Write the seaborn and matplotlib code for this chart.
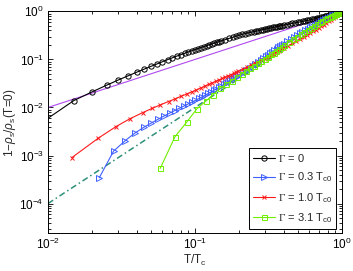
import numpy as np
import pandas as pd
import seaborn as sns
import matplotlib
matplotlib.use("Agg")
import matplotlib.pyplot as plt
from matplotlib.ticker import LogLocator, NullFormatter

# ---------------- data ----------------
T_g0 = [0.005, 0.015, 0.02, 0.025, 0.03, 0.035, 0.04, 0.045, 0.05, 0.055, 0.06, 0.065, 0.07,
        0.075, 0.08, 0.085, 0.09, 0.095, 0.1, 0.105, 0.11, 0.115, 0.12, 0.125, 0.13, 0.135,
        0.14, 0.145, 0.15, 0.16, 0.17, 0.18, 0.19, 0.2, 0.21, 0.22, 0.23, 0.24, 0.25, 0.26,
        0.27, 0.28, 0.29, 0.3, 0.31, 0.32, 0.33, 0.34, 0.35, 0.36, 0.37, 0.38, 0.39, 0.4,
        0.42, 0.44, 0.46, 0.48, 0.5, 0.52, 0.54, 0.56, 0.58, 0.6, 0.62, 0.64, 0.66, 0.68,
        0.7, 0.72, 0.74, 0.76, 0.78, 0.8, 0.82, 0.84, 0.86, 0.88, 0.9, 0.92, 0.94, 0.96,
        0.98, 1.0]
y_g0 = [0.0014, 0.01395, 0.0212, 0.029, 0.0372, 0.0455, 0.054, 0.0626, 0.0715, 0.0803,
        0.0894, 0.0988, 0.1078, 0.117, 0.1256, 0.1343, 0.1431, 0.152, 0.160, 0.168, 0.1766,
        0.1846, 0.1932, 0.2013, 0.2093, 0.2174, 0.2254, 0.2335, 0.2415, 0.2576, 0.2737,
        0.288, 0.304, 0.320, 0.3339, 0.3454, 0.3565, 0.3672, 0.3775, 0.3875, 0.3975,
        0.4075, 0.417, 0.4265, 0.436, 0.445, 0.454, 0.463, 0.472, 0.481, 0.4895, 0.498,
        0.5065, 0.515, 0.531, 0.5465, 0.5615, 0.5765, 0.591, 0.6055, 0.62, 0.6345, 0.649,
        0.6635, 0.678, 0.693, 0.708, 0.7235, 0.739, 0.755, 0.771, 0.787, 0.8035, 0.82,
        0.8365, 0.853, 0.8695, 0.886, 0.9025, 0.919, 0.9355, 0.9555, 0.977, 1.0]

T_g03 = [0.0223, 0.0279, 0.0335, 0.0391, 0.0447, 0.0503, 0.0559, 0.0615, 0.0671, 0.0727,
         0.0783, 0.0839, 0.0895, 0.0951, 0.1007, 0.1063, 0.1119, 0.1175, 0.1231, 0.1287,
         0.1343, 0.1399, 0.1455, 0.1511, 0.1567, 0.1623, 0.1679, 0.1735, 0.1791, 0.1847,
         0.1903, 0.1959, 0.2015, 0.2127, 0.2239, 0.2351, 0.2463, 0.2575, 0.2687, 0.2799,
         0.2911, 0.3023, 0.3135, 0.3247, 0.3359, 0.3471, 0.3583, 0.3695, 0.3807, 0.3919,
         0.4031, 0.4255, 0.4479, 0.4703, 0.4927, 0.5151, 0.5375, 0.5599, 0.5823, 0.6047,
         0.6271, 0.6495, 0.6719, 0.6943, 0.7167, 0.7391, 0.7615, 0.7839, 0.8063, 0.8287,
         0.8511, 0.8735, 0.8959, 0.9183, 0.9407, 0.9631, 0.9855, 1.0]
y_g03 = [0.000343, 0.00123, 0.00204, 0.00295, 0.00384, 0.00473, 0.00566, 0.00662, 0.00761,
         0.00861, 0.00963, 0.0107, 0.01178, 0.01293, 0.0141, 0.01537, 0.01665, 0.01809,
         0.01955, 0.02104, 0.02273, 0.02447, 0.02625, 0.02808, 0.03008, 0.03214, 0.03425,
         0.03642, 0.03865, 0.04094, 0.04346, 0.04605, 0.04872, 0.05452, 0.06066, 0.06716,
         0.07401, 0.08156, 0.08953, 0.09793, 0.1068, 0.1161, 0.1253, 0.135, 0.145, 0.1554,
         0.1663, 0.1775, 0.1891, 0.2012, 0.2137, 0.239, 0.2648, 0.292, 0.3192, 0.3476,
         0.3756, 0.4044, 0.434, 0.4644, 0.4955, 0.5252, 0.5553, 0.5857, 0.6164, 0.6473,
         0.6785, 0.7098, 0.7411, 0.7726, 0.8041, 0.8355, 0.8668, 0.8939, 0.9203, 0.9461,
         0.977, 1.0]

T_g10 = [0.0145, 0.022, 0.029, 0.036, 0.044, 0.051, 0.058, 0.066, 0.073, 0.080, 0.088,
         0.095, 0.102, 0.110, 0.117, 0.124, 0.131, 0.139, 0.146, 0.153, 0.161, 0.168, 0.175,
         0.183, 0.190, 0.197, 0.212, 0.226, 0.241, 0.255, 0.270, 0.285, 0.299, 0.314, 0.328,
         0.343, 0.358, 0.372, 0.387, 0.401, 0.431, 0.460, 0.489, 0.518, 0.547, 0.577, 0.606,
         0.635, 0.664, 0.693, 0.723, 0.752, 0.781, 0.810, 0.839, 0.869, 0.898, 0.927, 0.956,
         0.985, 1.0]
y_g10 = [0.0009, 0.0023, 0.0040, 0.0058, 0.0078, 0.00955, 0.0113, 0.0133, 0.0150, 0.0170,
         0.0191, 0.0211, 0.0231, 0.0256, 0.0280, 0.0302, 0.0325, 0.0352, 0.0376, 0.0401,
         0.0429, 0.0455, 0.0480, 0.0510, 0.0537, 0.0566, 0.0625, 0.0690, 0.0757, 0.0825,
         0.0893, 0.0970, 0.1045, 0.113, 0.1225, 0.1325, 0.142, 0.1525, 0.1635, 0.1735, 0.193,
         0.215, 0.237, 0.260, 0.286, 0.316, 0.347, 0.382, 0.419, 0.458, 0.496, 0.533, 0.574,
         0.621, 0.672, 0.723, 0.776, 0.838, 0.903, 0.966, 1.0]

T_g31 = [0.058, 0.073, 0.088, 0.103, 0.118, 0.133, 0.148, 0.163, 0.178, 0.193, 0.208, 0.223,
         0.238, 0.253, 0.268, 0.283, 0.298, 0.313, 0.328, 0.343, 0.358, 0.373, 0.388, 0.403,
         0.433, 0.463, 0.493, 0.523, 0.553, 0.583, 0.613, 0.643, 0.673, 0.703, 0.733, 0.763,
         0.793, 0.823, 0.853, 0.883, 0.913, 0.943, 0.973, 1.0]
y_g31 = [0.00054, 0.00245, 0.0050, 0.0094, 0.0134, 0.0186, 0.0249, 0.0306, 0.0364, 0.0428,
         0.0498, 0.0574, 0.0656, 0.0743, 0.0835, 0.0933, 0.1038, 0.115, 0.1267, 0.1392,
         0.1523, 0.1661, 0.1806, 0.1960, 0.2285, 0.2625, 0.2981, 0.3349, 0.3735, 0.4135,
         0.4552, 0.4984, 0.5426, 0.5878, 0.6332, 0.6796, 0.7219, 0.7653, 0.8076, 0.8499,
         0.8878, 0.9248, 0.9637, 1.0]

# reference power laws (straight lines on log-log axes)
T_ref = [0.01, 1.0]
y_lin = [0.01, 1.0]     # ~ T
y_sq = [0.0001, 1.0]    # ~ T^2

labels = [r"$\mathsf{\Gamma}$ = 0", r"$\mathsf{\Gamma}$ = 0.3 T$_{\rm c0}$",
          r"$\mathsf{\Gamma}$ = 1.0 T$_{\rm c0}$", r"$\mathsf{\Gamma}$ = 3.1 T$_{\rm c0}$"]

# ---------------- style ----------------
sns.set_theme(style="ticks")
plt.rcParams['font.family'] = ['Liberation Sans', 'DejaVu Sans']
plt.rcParams['mathtext.fontset'] = 'custom'
plt.rcParams['mathtext.rm'] = 'Liberation Sans'
plt.rcParams['mathtext.it'] = 'Liberation Sans:italic'
plt.rcParams['mathtext.bf'] = 'Liberation Sans:bold'
plt.rcParams['mathtext.sf'] = 'Liberation Serif'
FS = 8.5

fig = plt.figure(figsize=(3.53, 2.71), dpi=100)
ax = fig.add_axes([0.136, 0.140, 0.833, 0.818])

lw = 0.8
sns.lineplot(x=T_ref, y=y_lin, ax=ax, color='#b048f0', lw=lw, sort=False, legend=False)
sns.lineplot(x=T_ref, y=y_sq, ax=ax, color='#2e8f78', lw=1.1, sort=False, legend=False)
ax.lines[-1].set_dashes([4, 2, 1, 2])

series = [
    (T_g0, y_g0, 'black', 'o', 3.8),
    (T_g03, y_g03, '#3f5fff', '>', 4.0),
    (T_g10, y_g10, '#ff1a1a', 'x', 3.0),
    (T_g31, y_g31, '#6fee00', 's', 3.6),
]
for (T, y, c, m, ms), lab in zip(series, labels):
    df = pd.DataFrame({'T': T, 'y': y})
    sns.lineplot(data=df, x='T', y='y', ax=ax, color=c, lw=lw, marker=m, markersize=ms,
                 markerfacecolor='none', markeredgecolor=c, markeredgewidth=0.7,
                 label=lab, sort=False)

ax.set_xscale('log')
ax.set_yscale('log')
ax.set_xlim(0.01, 1.0)
ax.set_ylim(2.43e-5, 1.0)
ax.set_xticks([0.01, 0.1, 1.0])
ax.set_yticks([1e-4, 1e-3, 1e-2, 1e-1, 1.0])
ax.xaxis.set_minor_locator(LogLocator(base=10, subs=np.arange(2, 10), numticks=20))
ax.yaxis.set_minor_locator(LogLocator(base=10, subs=np.arange(2, 10), numticks=20))
ax.xaxis.set_minor_formatter(NullFormatter())
ax.yaxis.set_minor_formatter(NullFormatter())
ax.tick_params(which='both', direction='in', top=True, right=True, colors='black',
               labelsize=FS, width=0.6)
ax.tick_params(which='major', length=3.5, pad=3)
ax.tick_params(which='minor', length=2)
for s in ax.spines.values():
    s.set_linewidth(0.7)
    s.set_color('black')

ax.set_xlabel(r"T/T$_{\rm c}$", fontsize=FS, labelpad=0)
ax.set_ylabel(r"1$-\rho_{\rm s}/\rho_{\rm s}$(T=0)", fontsize=FS, labelpad=1)

leg = ax.legend(loc='lower right', fontsize=8, frameon=True, fancybox=False,
                edgecolor='black', framealpha=1, handlelength=2.0, borderpad=0.35,
                labelspacing=0.6, handletextpad=0.25, borderaxespad=0.0,
                bbox_to_anchor=(0.98, 0.018))
leg.get_frame().set_linewidth(0.7)

fig.savefig('out.png', dpi=100)
